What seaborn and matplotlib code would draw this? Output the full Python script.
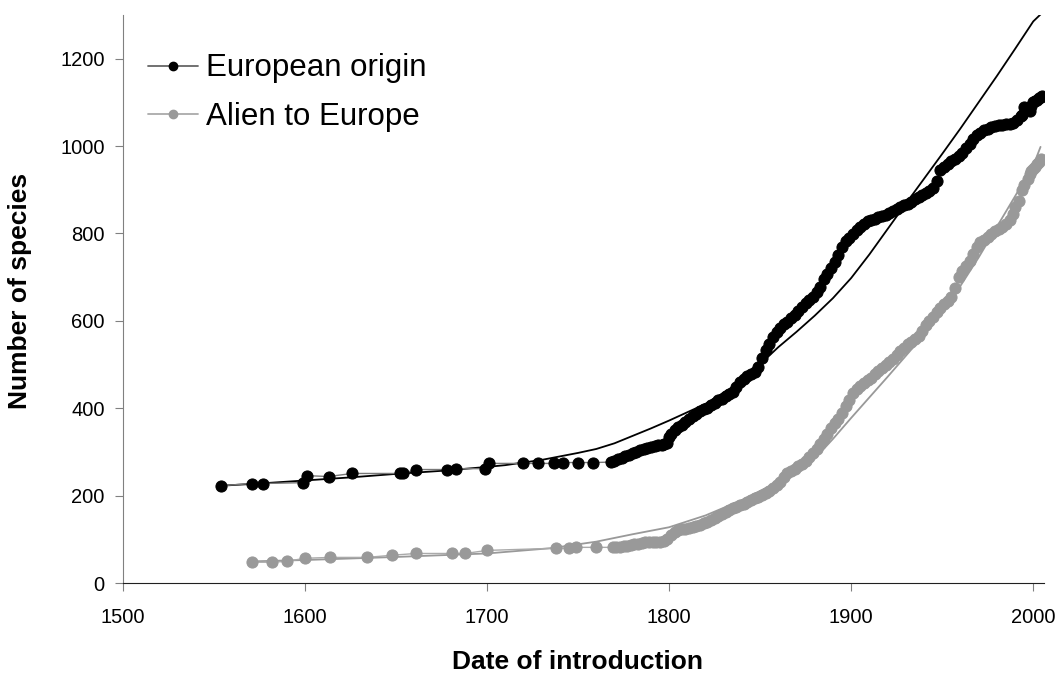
import numpy as np
import pandas as pd
import matplotlib
matplotlib.use('Agg')
import matplotlib.pyplot as plt
import seaborn as sns

sns.set_style('ticks')
plt.rcParams['font.family'] = ['Liberation Sans', 'DejaVu Sans']
plt.rcParams['text.color'] = 'black'

# European origin - cumulative number of species per year of introduction
eu_year = [1554, 1571, 1577, 1599, 1601, 1613, 1626, 1652, 1654, 1661, 1678, 1683, 1699, 1701,
           1720, 1728, 1737, 1742, 1750, 1758,
           1768, 1770, 1772, 1774, 1776, 1778, 1780, 1782, 1784, 1786, 1788, 1790, 1792, 1794,
           1796, 1797, 1799, 1800, 1801, 1803, 1805, 1807, 1809, 1811, 1813, 1815, 1817, 1819,
           1821, 1823, 1825, 1827, 1829, 1831, 1833, 1835, 1837, 1839, 1841, 1843, 1845, 1847,
           1849, 1851, 1853, 1855, 1857, 1859, 1861, 1863, 1865, 1867, 1869, 1871, 1873, 1875,
           1877, 1879, 1881, 1883, 1885, 1887, 1889, 1891, 1893, 1895, 1897, 1899, 1901, 1903,
           1905, 1907, 1909, 1911, 1913, 1915, 1917, 1919, 1921, 1923, 1925, 1927, 1929, 1931,
           1933, 1935, 1937, 1939, 1941, 1943, 1945, 1947, 1949, 1951, 1953, 1955, 1957, 1959,
           1961, 1963, 1965, 1967, 1969, 1971, 1973, 1975, 1977, 1979, 1981, 1983, 1985, 1987,
           1989, 1991, 1993, 1994, 1995, 1996, 1998, 1999, 2000, 2001, 2002, 2003, 2004, 2005]
eu_count = [223, 228, 228, 230, 246, 244, 251, 251, 251, 260, 260, 262, 262, 274,
            274, 274, 274, 276, 276, 276,
            277, 280, 284, 287, 290, 294, 297, 300, 304, 306, 309, 311, 313, 315,
            317, 318, 320, 335, 342, 350, 358, 362, 368, 375, 382, 388, 394, 398,
            401, 407, 412, 418, 422, 428, 432, 438, 448, 460, 466, 474, 479, 484,
            495, 515, 533, 548, 562, 574, 583, 592, 598, 607, 614, 622, 632, 640,
            647, 655, 665, 678, 695, 708, 720, 735, 750, 768, 782, 790, 798, 808,
            815, 822, 828, 831, 834, 837, 840, 843, 846, 852, 856, 860, 864, 868,
            873, 878, 883, 888, 892, 897, 905, 920, 945, 952, 958, 965, 971, 978,
            985, 995, 1005, 1017, 1025, 1030, 1036, 1040, 1043, 1045, 1047, 1049, 1050, 1051,
            1053, 1060, 1068, 1072, 1090, 1085, 1080, 1092, 1100, 1103, 1106, 1110, 1112, 1115]

# European origin - fitted curve
eu_fit_year = [1554, 1575, 1600, 1625, 1650, 1675, 1700, 1710, 1720, 1730, 1740, 1750, 1760,
               1770, 1780, 1790, 1800, 1820, 1840, 1860, 1870, 1880, 1890, 1900, 1910, 1920,
               1930, 1940, 1950, 1960, 1970, 1980, 1990, 2000, 2005]
eu_fit = [223, 228, 235, 242, 250, 257, 266, 270, 276, 282, 290, 298, 307,
          320, 337, 354, 372, 410, 462, 540, 575, 612, 652, 698, 752, 810,
          868, 925, 982, 1040, 1100, 1160, 1222, 1285, 1305]

# Alien to Europe
al_year = [1571, 1582, 1590, 1600, 1614, 1634, 1648, 1661, 1681, 1688, 1700, 1738, 1745, 1749,
           1760, 1769, 1771, 1773, 1775, 1777, 1779, 1781, 1783, 1785, 1787, 1789, 1791, 1793,
           1795, 1797, 1799, 1801, 1803, 1805, 1807, 1809, 1811, 1813, 1815, 1817, 1819, 1821,
           1823, 1825, 1827, 1829, 1831, 1833, 1835, 1837, 1839, 1841, 1843, 1845, 1847, 1849,
           1851, 1853, 1855, 1857, 1859, 1861, 1863, 1865, 1867, 1869, 1871, 1873, 1875, 1877,
           1879, 1881, 1883, 1885, 1887, 1889, 1891, 1893, 1895, 1897, 1899, 1901, 1903, 1905,
           1907, 1909, 1911, 1913, 1915, 1917, 1919, 1921, 1923, 1925, 1927, 1929, 1931, 1933,
           1935, 1937, 1939, 1941, 1943, 1945, 1947, 1949, 1951, 1953, 1955, 1957, 1959, 1961,
           1963, 1965, 1967, 1969, 1971, 1973, 1975, 1977, 1979, 1981, 1983, 1985, 1987, 1989,
           1990, 1992, 1994, 1995, 1997, 1998, 1999, 2000, 2001, 2002, 2003, 2004]
al_count = [48, 48, 50, 57, 59, 59, 64, 68, 68, 68, 75, 80, 80, 82,
            82, 82, 83, 83, 84, 86, 87, 89, 90, 92, 94, 94, 94, 94,
            95, 97, 100, 110, 116, 121, 123, 125, 127, 129, 131, 134, 137, 141,
            145, 149, 153, 158, 163, 167, 171, 175, 178, 182, 186, 190, 194, 198,
            202, 206, 211, 217, 224, 232, 242, 251, 257, 262, 267, 272, 279, 288,
            298, 308, 319, 330, 342, 355, 366, 375, 390, 405, 420, 435, 445, 452,
            458, 464, 470, 478, 486, 492, 498, 505, 513, 522, 530, 538, 546, 552,
            558, 565, 578, 590, 600, 610, 620, 630, 638, 646, 655, 675, 700, 715,
            725, 738, 752, 770, 780, 786, 792, 798, 805, 810, 815, 822, 830, 845,
            860, 875, 900, 910, 925, 935, 942, 948, 952, 958, 964, 970]

# Alien to Europe - fitted curve
al_fit_year = [1571, 1600, 1650, 1700, 1735, 1760, 1780, 1800, 1820, 1840, 1860, 1880, 1890,
               1900, 1910, 1920, 1930, 1940, 1950, 1960, 1970, 1980, 1990, 2000, 2004]
al_fit = [50, 53, 60, 68, 80, 95, 112, 128, 155, 190, 232, 285, 330,
          378, 425, 472, 520, 568, 620, 680, 745, 815, 885, 955, 998]

fig = plt.figure(figsize=(10.59, 6.75), dpi=100)
ax = fig.add_axes([0.116, 0.136, 0.870, 0.842])

# fitted curves
sns.lineplot(x=eu_fit_year, y=eu_fit, color='black', linewidth=1.3, ax=ax, sort=False, estimator=None)
sns.lineplot(x=al_fit_year, y=al_fit, color='#999999', linewidth=1.3, ax=ax, sort=False, estimator=None)

# observed data
sns.lineplot(x=eu_year, y=eu_count, color='#777777', linewidth=1.0, marker='o', markersize=8,
             markerfacecolor='black', markeredgecolor='black', ax=ax, sort=False, estimator=None)
sns.lineplot(x=al_year, y=al_count, color='#aaaaaa', linewidth=1.0, marker='o', markersize=8,
             markerfacecolor='#999999', markeredgecolor='#999999', ax=ax, sort=False, estimator=None)

h1, = ax.plot([], [], color='#666666', lw=1.3, marker='o', ms=6, mfc='black', mec='black')
h2, = ax.plot([], [], color='#aaaaaa', lw=1.3, marker='o', ms=6, mfc='#999999', mec='#999999')
ax.legend([h1, h2], ['European origin', 'Alien to Europe'], loc='upper left',
          bbox_to_anchor=(0.027, 0.932), frameon=False, fontsize=22.5, handlelength=1.6,
          handletextpad=0.25, labelspacing=0.58, borderaxespad=0, borderpad=0,
          labelcolor='black')

ax.set_xlim(1500, 2006)
ax.set_ylim(0, 1300)
ax.set_xticks([1500, 1600, 1700, 1800, 1900, 2000])
ax.set_yticks([0, 200, 400, 600, 800, 1000, 1200])
ax.tick_params(axis='both', labelsize=14.5, direction='out', length=6, color='#808080',
               labelcolor='black')
ax.tick_params(axis='y', pad=7)
ax.tick_params(axis='x', pad=12)
sns.despine(ax=ax)
ax.spines['left'].set_color('#808080')
ax.spines['bottom'].set_color('#202020')

ax.set_xlabel('Date of introduction', fontsize=19, fontweight='bold', color='black')
ax.set_ylabel('Number of species', fontsize=19, fontweight='bold', color='black')
ax.xaxis.set_label_coords(0.494, -0.118)
ax.yaxis.set_label_coords(-0.099, 0.514)

fig.savefig('out.png', dpi=100)
